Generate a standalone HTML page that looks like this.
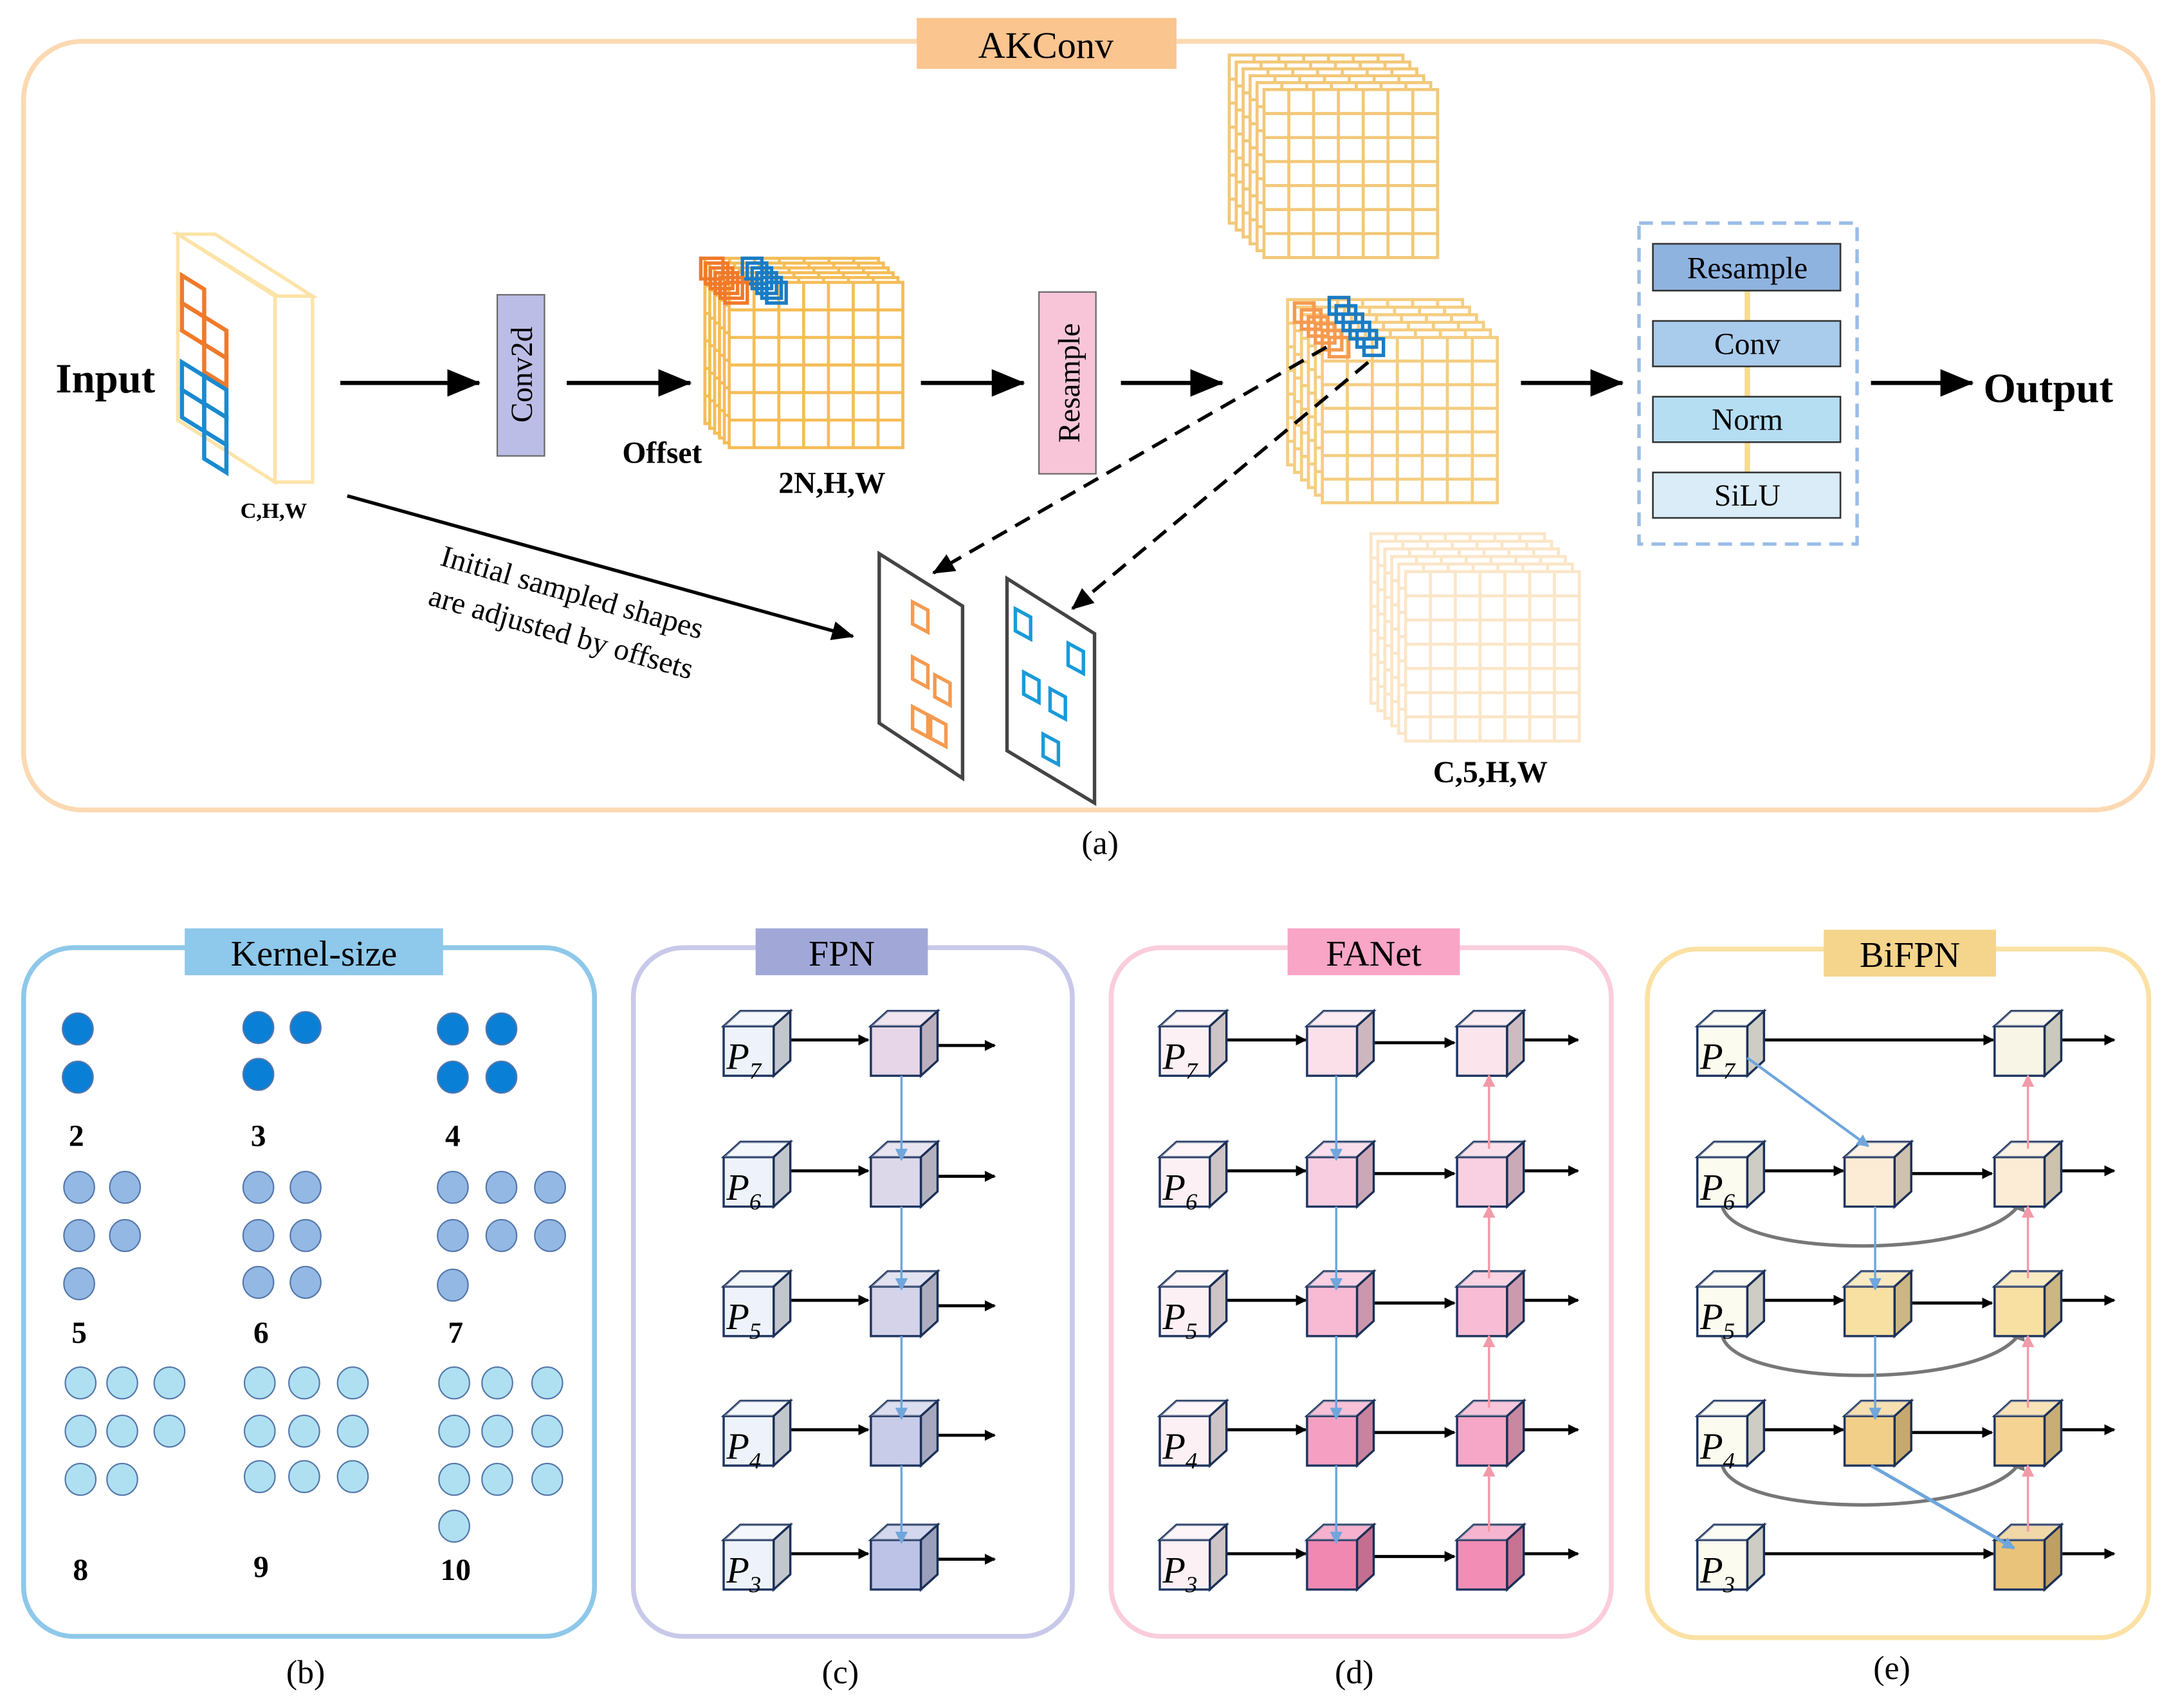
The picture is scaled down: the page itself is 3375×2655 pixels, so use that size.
<!DOCTYPE html>
<html><head><meta charset="utf-8"><style>
html,body{margin:0;padding:0;background:#fff}
svg{display:block}
text{font-family:"Liberation Serif",serif}
</style></head><body>
<svg id="s" width="3375" height="2655" viewBox="0 0 1563 1240" preserveAspectRatio="none" xmlns="http://www.w3.org/2000/svg">
<defs>
<marker id="ab" markerWidth="8" markerHeight="8" refX="7" refY="4" orient="auto" markerUnits="userSpaceOnUse"><path d="M0,0 L8,4 L0,8 Z" fill="#000"/></marker>
<marker id="abig" markerWidth="24" markerHeight="20" refX="23" refY="10" orient="auto" markerUnits="userSpaceOnUse"><path d="M0,0 L24,10 L0,20 Z" fill="#000"/></marker>
<marker id="amid" markerWidth="16" markerHeight="14" refX="15" refY="7" orient="auto" markerUnits="userSpaceOnUse"><path d="M0,0 L16,7 L0,14 Z" fill="#000"/></marker>
<marker id="abl" markerWidth="9" markerHeight="9" refX="8" refY="4.5" orient="auto" markerUnits="userSpaceOnUse"><path d="M0,0 L9,4.5 L0,9 Z" fill="#6fa6dc"/></marker>
<marker id="apk" markerWidth="9" markerHeight="9" refX="8" refY="4.5" orient="auto" markerUnits="userSpaceOnUse"><path d="M0,0 L9,4.5 L0,9 Z" fill="#f29aa8"/></marker>
<marker id="agr" markerWidth="10" markerHeight="10" refX="9" refY="5" orient="auto" markerUnits="userSpaceOnUse"><path d="M0,0 L10,5 L0,10 Z" fill="#777"/></marker>
</defs>

<rect x="17" y="30" width="1533" height="558" rx="42" fill="none" stroke="#fcd9b2" stroke-width="3.5"/>
<rect x="660" y="13" width="187" height="37" fill="#fbc590"/>
<text x="753" y="42" font-size="27" text-anchor="middle">AKConv</text>

<g id="g"></g>

<text x="40" y="285" font-size="30" font-weight="bold">Input</text>
<text x="197" y="376" font-size="16" font-weight="bold" text-anchor="middle">C,H,W</text>
<text x="448" y="336" font-size="22" font-weight="bold">Offset</text>
<text x="599" y="358" font-size="22" font-weight="bold" text-anchor="middle">2N,H,W</text>
<text x="1073" y="568" font-size="22" font-weight="bold" text-anchor="middle">C,5,H,W</text>
<text x="1428" y="292" font-size="30" font-weight="bold">Output</text>

<rect x="358" y="214" width="34" height="117" fill="#bcbde6" stroke="#666" stroke-width="1"/>
<text transform="translate(383,272) rotate(-90)" font-size="22" text-anchor="middle">Conv2d</text>
<rect x="748" y="212" width="41" height="132" fill="#f8c5d8" stroke="#666" stroke-width="1"/>
<text transform="translate(777,278) rotate(-90)" font-size="22" text-anchor="middle">Resample</text>

<g stroke="#000" stroke-width="3" marker-end="url(#abig)">
<line x1="245" y1="278" x2="345" y2="278"/>
<line x1="408" y1="278" x2="497" y2="278"/>
<line x1="663" y1="278" x2="737" y2="278"/>
<line x1="807" y1="278" x2="880" y2="278"/>
<line x1="1095" y1="278" x2="1168" y2="278"/>
<line x1="1347" y1="278" x2="1420" y2="278"/>
</g>
<line x1="250" y1="360" x2="614" y2="462" stroke="#000" stroke-width="2.5" marker-end="url(#amid)"/>
<g stroke="#000" stroke-width="2.5" stroke-dasharray="12,7">
<line x1="955" y1="252" x2="672" y2="416" marker-end="url(#amid)"/>
<line x1="985" y1="263" x2="772" y2="442" marker-end="url(#amid)"/>
</g>
<text transform="translate(410,437) rotate(16)" font-size="22" text-anchor="middle">Initial sampled shapes</text>
<text transform="translate(402,466) rotate(16)" font-size="22" text-anchor="middle">are adjusted by offsets</text>

<rect x="1180" y="162" width="157" height="233" fill="none" stroke="#9bbde8" stroke-width="2.5" stroke-dasharray="10,6"/>
<g stroke="#f5dc90" stroke-width="4"><line x1="1258" y1="211" x2="1258" y2="233"/><line x1="1258" y1="266" x2="1258" y2="288"/><line x1="1258" y1="321" x2="1258" y2="343"/></g>
<g stroke="#333" stroke-width="1.2">
<rect x="1190" y="177" width="135" height="34" fill="#8fb3df"/>
<rect x="1190" y="233" width="135" height="33" fill="#a9cbec"/>
<rect x="1190" y="288" width="135" height="33" fill="#b5def3"/>
<rect x="1190" y="343" width="135" height="33" fill="#d9ecf8"/>
</g>
<g font-size="22" text-anchor="middle">
<text x="1258" y="202">Resample</text>
<text x="1258" y="257">Conv</text>
<text x="1258" y="312">Norm</text>
<text x="1258" y="367">SiLU</text>
</g>
<text x="792" y="620" font-size="24" text-anchor="middle">(a)</text>

<rect x="17" y="688" width="411" height="500" rx="36" fill="none" stroke="#8ec8ea" stroke-width="3.5"/>
<rect x="456" y="688" width="316" height="500" rx="36" fill="none" stroke="#c8c9ea" stroke-width="3.5"/>
<rect x="800" y="688" width="360" height="500" rx="36" fill="none" stroke="#fbcddc" stroke-width="3.5"/>
<rect x="1186" y="689" width="361" height="500" rx="36" fill="none" stroke="#fbe1a4" stroke-width="3.5"/>
<rect x="133" y="674" width="186" height="34" fill="#8ec8ea"/>
<rect x="544" y="674" width="124" height="34" fill="#a1a8d8"/>
<rect x="927" y="674" width="124" height="34" fill="#f9a5c5"/>
<rect x="1313" y="675" width="124" height="34" fill="#f5d48c"/>
<g font-size="26" text-anchor="middle">
<text x="226" y="701">Kernel-size</text>
<text x="606" y="701">FPN</text>
<text x="989" y="701">FANet</text>
<text x="1375" y="702">BiFPN</text>
</g>
<g font-size="24" text-anchor="middle">
<text x="220" y="1222">(b)</text><text x="605" y="1222">(c)</text><text x="975" y="1222">(d)</text><text x="1362" y="1219">(e)</text>
</g>
<g font-size="22" font-weight="bold" text-anchor="middle">
<text x="55" y="832">2</text><text x="186" y="832">3</text><text x="326" y="832">4</text>
<text x="57" y="975">5</text><text x="188" y="975">6</text><text x="328" y="975">7</text>
<text x="58" y="1147">8</text><text x="188" y="1145">9</text><text x="328" y="1147">10</text>
</g>
<g id="cubes"></g>
<g id="over"></g>
<g font-size="27" font-style="italic">
<text x="523" y="776">P<tspan font-size="17" dy="7">7</tspan></text>
<text x="523" y="871">P<tspan font-size="17" dy="7">6</tspan></text>
<text x="523" y="965">P<tspan font-size="17" dy="7">5</tspan></text>
<text x="523" y="1059">P<tspan font-size="17" dy="7">4</tspan></text>
<text x="523" y="1149">P<tspan font-size="17" dy="7">3</tspan></text>
<text x="837" y="776">P<tspan font-size="17" dy="7">7</tspan></text>
<text x="837" y="871">P<tspan font-size="17" dy="7">6</tspan></text>
<text x="837" y="965">P<tspan font-size="17" dy="7">5</tspan></text>
<text x="837" y="1059">P<tspan font-size="17" dy="7">4</tspan></text>
<text x="837" y="1149">P<tspan font-size="17" dy="7">3</tspan></text>
<text x="1224" y="776">P<tspan font-size="17" dy="7">7</tspan></text>
<text x="1224" y="871">P<tspan font-size="17" dy="7">6</tspan></text>
<text x="1224" y="965">P<tspan font-size="17" dy="7">5</tspan></text>
<text x="1224" y="1059">P<tspan font-size="17" dy="7">4</tspan></text>
<text x="1224" y="1149">P<tspan font-size="17" dy="7">3</tspan></text>
</g>
</svg>
<script>
const NS="http://www.w3.org/2000/svg";
const G=document.getElementById('g'),C=document.getElementById('cubes'),O=document.getElementById('over');
function el(p,t,a){const e=document.createElementNS(NS,t);for(const k in a)e.setAttribute(k,a[k]);p.appendChild(e);return e;}
function grid(x,y,w,h,cols,rows,col,sw){
  el(G,'rect',{x:x,y:y,width:w,height:h,fill:'#fff',stroke:col,'stroke-width':sw});
  let d='';for(let i=1;i<cols;i++){const xx=x+w*i/cols;d+=`M${xx},${y}V${y+h}`;}
  for(let j=1;j<rows;j++){const yy=y+h*j/rows;d+=`M${x},${yy}H${x+w}`;}
  el(G,'path',{d:d,stroke:col,'stroke-width':sw,fill:'none'});
}
function stack(x,y,w,h,cols,rows,n,dx,dy,col,sw){for(let i=n-1;i>=0;i--)grid(x-i*dx,y-i*dy,w,h,cols,rows,col,sw);}
stack(910,65,125,122,7,7,6,5,5,'#f2c878',2.2);
stack(952,245,126,120,7,7,6,5,5.5,'#f5cd80',2.2);
stack(1012,415,125,123,7,7,6,5,5.5,'#fbe6c8',2.2);
stack(525,205,125,120,7,6,6,3.5,3.5,'#f5bd58',2.2);
for(let i=5;i>=0;i--){el(G,'rect',{x:522-i*3.5,y:205-i*3.5,width:16,height:15,fill:'none',stroke:'#f07a2a','stroke-width':2.5});
 el(G,'rect',{x:552-i*3.5,y:205-i*3.5,width:14,height:15,fill:'none',stroke:'#1a7cc4','stroke-width':2.5});}
for(let i=5;i>=0;i--){el(G,'rect',{x:932+i*5,y:220+i*5,width:14,height:14,fill:'none',stroke:'#f59a50','stroke-width':2.5});
 el(G,'rect',{x:957+i*5,y:216+i*6,width:14,height:12,fill:'none',stroke:'#1a7cc4','stroke-width':2.5});}
el(G,'polygon',{points:'128,170 200,215 225,215 155,170',fill:'#fff',stroke:'#fde3a8','stroke-width':2.5});
el(G,'rect',{x:198,y:215,width:27,height:135,fill:'#fff',stroke:'#fde3a8','stroke-width':2.5});
el(G,'polygon',{points:'128,170 198,215 198,350 128,305',fill:'#fff',stroke:'#fde3a8','stroke-width':2.5});
function cells(pts,col){pts.forEach(p=>el(G,'polygon',{points:`${p[0]},${p[1]} ${p[0]+16},${p[1]+10} ${p[0]+16},${p[1]+30} ${p[0]},${p[1]+20}`,fill:'none',stroke:col,'stroke-width':3}));}
cells([[131,200],[131,220],[147,230],[147,250]],'#f07a2a');
cells([[131,263],[131,283],[147,273],[147,293],[147,313]],'#1a8ad0');
el(G,'polygon',{points:'633,402 693,440 693,565 633,525',fill:'#fff',stroke:'#444','stroke-width':2.5});
el(G,'polygon',{points:'725,420 788,460 788,583 725,545',fill:'#fff',stroke:'#444','stroke-width':2.5});
function sq(x,y,col){el(G,'polygon',{points:`${x},${y} ${x+11},${y+6} ${x+11},${y+22} ${x},${y+16}`,fill:'none',stroke:col,'stroke-width':2.5});}
[[657,437],[657,477],[673,490],[657,513],[670,520]].forEach(p=>sq(p[0],p[1],'#f59a50'));
[[731,442],[769,467],[737,488],[756,500],[751,533]].forEach(p=>sq(p[0],p[1],'#1a9ad8'));
function dots(list,col){list.forEach(p=>el(G,'ellipse',{cx:p[0],cy:p[1],rx:11,ry:11.5,fill:col,stroke:'#5577aa','stroke-width':1}));}
dots([[56,747],[56,782],[186,746],[220,746],[186,780],[326,747],[361,747],[326,782],[361,782]],'#0a7fd6');
dots([[57,862],[90,862],[57,897],[90,897],[57,932],[186,862],[220,862],[186,897],[220,897],[186,931],[220,931],
 [326,862],[361,862],[396,862],[326,897],[361,897],[396,897],[326,933]],'#93b8e4');
let g3=[[58,1004],[88,1004],[122,1004],[58,1039],[88,1039],[122,1039],[58,1074],[88,1074]];
[1004,1039,1072].forEach(y=>[187,219,254].forEach(x=>g3.push([x,y])));
[1004,1039,1074].forEach(y=>[327,358,394].forEach(x=>g3.push([x,y])));g3.push([327,1108]);
dots(g3,'#aee0f2');
function cube(x,y,fill){const w=36,h=36,d=12,dy=11;
 el(C,'rect',{x:x,y:y,width:w,height:h,fill:fill,stroke:'#1f3560','stroke-width':1.6});
 el(C,'polygon',{points:`${x},${y} ${x+d},${y-dy} ${x+w+d},${y-dy} ${x+w},${y}`,fill:fill,stroke:'#1f3560','stroke-width':1.6});
 el(C,'polygon',{points:`${x},${y} ${x+d},${y-dy} ${x+w+d},${y-dy} ${x+w},${y}`,fill:'#fff','fill-opacity':0.35});
 el(C,'polygon',{points:`${x+w},${y} ${x+w+d},${y-dy} ${x+w+d},${y+h-dy} ${x+w},${y+h}`,fill:fill,stroke:'#1f3560','stroke-width':1.6});
 el(C,'polygon',{points:`${x+w},${y} ${x+w+d},${y-dy} ${x+w+d},${y+h-dy} ${x+w},${y+h}`,fill:'#000','fill-opacity':0.18});}
function line(p,x1,y1,x2,y2,col,sw,m){el(p,'line',{x1:x1,y1:y1,x2:x2,y2:y2,stroke:col,'stroke-width':sw,'marker-end':`url(#${m})`});}
function path(d,col,sw,m){el(C,'path',{d:d,stroke:col,'stroke-width':sw,fill:'none','marker-end':`url(#${m})`});}
const rows=[745,840,934,1028,1118];
const fc=['#e6d6e8','#dcd8ea','#d4d3ea','#c9cce8','#bcc3e6'];
rows.forEach((y,i)=>{line(C,557,y+10,625,y+10,'#000',2.2,'ab');line(C,674,y+14,716,y+14,'#000',2.2,'ab');
 if(i<4)line(O,649,y+36,649,rows[i+1]+2,'#6fa6dc',1.6,'abl');});
rows.forEach((y,i)=>{cube(521,y,'#eef3fb');cube(627,y,fc[i]);});
const d2=['#fbe0ea','#f8cde0','#f8b9d3','#f5a0c2','#f088b2'],d3=['#fbe4ec','#f8d0e1','#f8bcd5','#f6a6c6','#f28db5'];
rows.forEach((y,i)=>{line(C,871,y+10,940,y+10,'#000',2.2,'ab');line(C,979,y+12,1047,y+12,'#000',2.2,'ab');line(C,1086,y+10,1136,y+10,'#000',2.2,'ab');
 if(i<4){line(O,962,y+36,962,rows[i+1]+2,'#6fa6dc',1.6,'abl');line(O,1072,rows[i+1]-6,1072,y+36,'#f29aa8',1.6,'apk');}});
rows.forEach((y,i)=>{cube(835,y,'#fcf0f4');cube(941,y,d2[i]);cube(1049,y,d3[i]);});
const e3=['#f8f5e6','#fcecd5','#f8dfa2','#f5d392','#e9c37a'],e2=[null,'#fcecd5','#f8dfa2','#f2cf88'];
rows.forEach((y,i)=>{
 if(i==0||i==4)line(C,1258,y+10,1435,y+10,'#000',2.2,'ab');
 else{line(C,1258,y+10,1327,y+10,'#000',2.2,'ab');line(C,1366,y+12,1434,y+12,'#000',2.2,'ab');}
 line(C,1473,y+10,1522,y+10,'#000',2.2,'ab');
 if(i<4)line(O,1460,rows[i+1]-6,1460,y+36,'#f29aa8',1.6,'apk');
 if(i>=1&&i<=3)path(`M1240,${y+36} C1250,${y+75} 1440,${y+75} 1456,${y+30}`,'#777',2.5,'agr');
 if(i==1||i==2)line(O,1350,y+36,1350,rows[i+1]+2,'#6fa6dc',1.6,'abl');});
line(O,1258,768,1345,832,'#6fa6dc',2,'abl');
line(O,1347,1064,1450,1124,'#6fa6dc',2.5,'abl');
rows.forEach((y,i)=>{cube(1222,y,'#fbfbf0');cube(1436,y,e3[i]);if(e2[i])cube(1328,y,e2[i]);});
</script>
</body></html>
